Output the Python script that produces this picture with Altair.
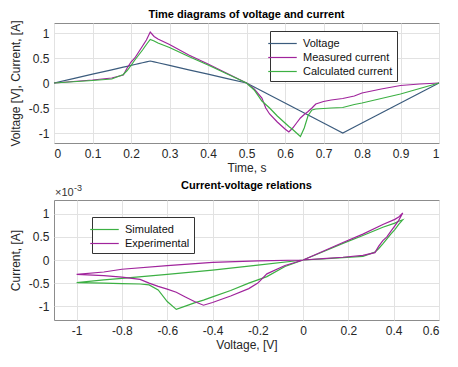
import altair as alt
import pandas as pd

# time grid [s]
t = [0, 0.05, 0.1, 0.15, 0.18, 0.19, 0.2, 0.21, 0.22, 0.23, 0.24, 0.25, 0.26, 0.27, 0.3,
     0.35, 0.4, 0.45, 0.5, 0.52, 0.54, 0.55, 0.56, 0.58, 0.6, 0.61, 0.62, 0.63, 0.64, 0.65,
     0.66, 0.67, 0.68, 0.7, 0.72, 0.75, 0.78, 0.8, 0.85, 0.9, 0.95, 1.0]
voltage = [0, 0.088, 0.176, 0.264, 0.317, 0.334, 0.352, 0.370, 0.387, 0.405, 0.422, 0.44, 0.422,
           0.405, 0.352, 0.264, 0.176, 0.088, 0, -0.08, -0.16, -0.2, -0.24, -0.32, -0.4, -0.44,
           -0.48, -0.52, -0.56, -0.6, -0.64, -0.68, -0.72, -0.8, -0.88, -1.0, -0.88, -0.8, -0.6,
           -0.4, -0.2, 0]
measured = [0, 0.03, 0.06, 0.1, 0.16, 0.3, 0.42, 0.5, 0.62, 0.74, 0.86, 1.02, 0.93, 0.88, 0.77,
            0.56, 0.38, 0.19, 0, -0.12, -0.3, -0.5, -0.62, -0.78, -0.92, -0.98, -0.9, -0.8, -0.7,
            -0.63, -0.57, -0.5, -0.42, -0.37, -0.34, -0.31, -0.26, -0.2, -0.12, -0.05, -0.02, 0]
calculated = [0, 0.025, 0.05, 0.08, 0.17, 0.25, 0.35, 0.46, 0.56, 0.66, 0.77, 0.87, 0.84, 0.80,
              0.71, 0.53, 0.36, 0.18, 0, -0.14, -0.36, -0.43, -0.5, -0.66, -0.8, -0.87, -0.93,
              -1.0, -1.07, -0.9, -0.65, -0.54, -0.52, -0.51, -0.5, -0.49, -0.43, -0.4, -0.31,
              -0.22, -0.11, 0]

top_series = ["Voltage", "Measured current", "Calculated current"]
top_colors = ["#3b5b7d", "#a0249c", "#3cb043"]
bot_series = ["Simulated", "Experimental"]
bot_colors = ["#3cb043", "#a0249c"]

x_top_ticks = [0, 0.1, 0.2, 0.3, 0.4, 0.5, 0.6, 0.7, 0.8, 0.9, 1]
y_ticks = [-1, -0.5, 0, 0.5, 1]
x_bot_ticks = [-1, -0.8, -0.6, -0.4, -0.2, 0, 0.2, 0.4, 0.6]

rows = []
for i in range(len(t)):
    rows.append({"t": t[i], "value": voltage[i], "series": "Voltage"})
    rows.append({"t": t[i], "value": measured[i], "series": "Measured current"})
    rows.append({"t": t[i], "value": calculated[i], "series": "Calculated current"})
top_df = pd.DataFrame(rows)

rows = []
for i in range(len(t)):
    rows.append({"t": t[i], "v": voltage[i], "cur": calculated[i], "series": "Simulated"})
    rows.append({"t": t[i], "v": voltage[i], "cur": measured[i], "series": "Experimental"})
bot_df = pd.DataFrame(rows)

FONT = "Liberation Sans"
LINE = "M-1.9,0L1.9,0"
W = 385


def legend(x, y):
    return alt.Legend(orient="none", legendX=x, legendY=y, title=None,
                      fillColor="white", strokeColor="#333333", padding=4,
                      symbolType=LINE, symbolSize=225, symbolStrokeWidth=1.2,
                      labelFontSize=11, labelFont=FONT, labelColor="#111111",
                      labelOffset=12, rowPadding=0)


top = alt.Chart(top_df).mark_line(strokeWidth=1.2).encode(
    x=alt.X("t:Q", scale=alt.Scale(domain=[0, 1], nice=False),
            axis=alt.Axis(values=x_top_ticks, title="Time, s", labelExpr="'' + datum.value")),
    y=alt.Y("value:Q", scale=alt.Scale(domain=[-1.2, 1.2], nice=False),
            axis=alt.Axis(values=y_ticks, title="Voltage [V], Current, [A]",
                          labelExpr="'' + datum.value")),
    color=alt.Color("series:N", scale=alt.Scale(domain=top_series, range=top_colors),
                    legend=legend(216, 8)),
    order="t:Q",
).properties(width=W, height=120,
             title=alt.Title("Time diagrams of voltage and current", fontSize=11,
                             fontWeight="bold", font=FONT, anchor="middle", frame="group",
                             offset=0))

bot_lines = alt.Chart(bot_df).mark_line(strokeWidth=1.2).encode(
    x=alt.X("v:Q", scale=alt.Scale(domain=[-1.1, 0.6], nice=False),
            axis=alt.Axis(values=x_bot_ticks, title="Voltage, [V]", labelFlush=5,
                          labelExpr="'' + datum.value")),
    y=alt.Y("cur:Q", scale=alt.Scale(domain=[-1.3, 1.3], nice=False),
            axis=alt.Axis(values=y_ticks, title="Current, [A]", labelExpr="'' + datum.value")),
    color=alt.Color("series:N", scale=alt.Scale(domain=bot_series, range=bot_colors),
                    legend=legend(38, 17)),
    detail="series:N",
    order="t:Q",
)

exp_base = alt.Chart(pd.DataFrame({"s": ["×10"]})).mark_text(
    align="left", baseline="alphabetic", fontSize=11, font=FONT, color="#333333"
).encode(x=alt.value(1), y=alt.value(-4), text="s:N")
exp_sup = alt.Chart(pd.DataFrame({"s": ["-3"]})).mark_text(
    align="left", baseline="alphabetic", fontSize=9, font=FONT, color="#333333"
).encode(x=alt.value(20), y=alt.value(-9), text="s:N")

bottom = alt.layer(bot_lines, exp_base, exp_sup).properties(
    width=W, height=120,
    title=alt.Title("Current-voltage relations", fontSize=11, fontWeight="bold", font=FONT,
                    anchor="middle", frame="group", offset=-7))

chart = alt.vconcat(top, bottom, spacing=5).resolve_scale(
    color="independent").resolve_legend(color="independent").configure(
    padding={"left": 0, "top": 0, "right": 0, "bottom": 2}, background="white"
).configure_view(stroke="#8c8c8c", strokeWidth=1).configure_axis(
    labelFont=FONT, labelFontSize=12, labelColor="#262626", labelPadding=5,
    titleFont=FONT, titleFontSize=12, titleFontWeight="normal", titleColor="#262626",
    titlePadding=3, grid=True, gridColor="#e2e2e2", gridWidth=1, domain=False, ticks=False
).configure_axisY(titlePadding=6).configure_title(color="#000000")

chart.save("out.html", embed_options={"renderer": "svg", "actions": False})
